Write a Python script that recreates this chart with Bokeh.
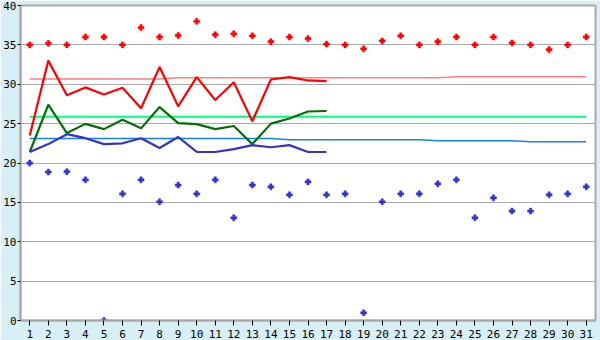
from bokeh.plotting import figure
from bokeh.models import Range1d, FixedTicker
from bokeh.embed import file_html
from bokeh.resources import INLINE

days = list(range(1, 32))
days_part = list(range(1, 18))

max_pts = [35.0, 35.2, 35.0, 36.0, 36.0, 35.0, 37.2, 36.0, 36.2, 38.0,
           36.3, 36.4, 36.15, 35.4, 36.0, 35.8, 35.1, 35.0, 34.5, 35.5,
           36.15, 35.0, 35.4, 36.0, 35.0, 36.0, 35.25, 35.0, 34.4, 35.0, 36.0]
min_pts = [20.0, 18.85, 18.9, 17.86, 0.0, 16.08, 17.86, 15.07, 17.2, 16.08,
           17.86, 13.04, 17.2, 16.97, 15.96, 17.6, 15.96, 16.08, 0.97, 15.07,
           16.08, 16.08, 17.35, 17.86, 13.04, 15.58, 13.9, 13.9, 15.96, 16.08, 16.97]

max_line = [23.5, 33.0, 28.6, 29.6, 28.7, 29.55, 26.96, 32.2, 27.2, 30.9,
            28.0, 30.26, 25.3, 30.6, 30.9, 30.48, 30.4]
mean_line = [21.4, 27.4, 23.8, 24.97, 24.3, 25.5, 24.4, 27.1, 25.06, 24.93,
             24.3, 24.7, 22.4, 25.0, 25.65, 26.54, 26.6]
min_line = [21.4, 22.4, 23.66, 23.15, 22.4, 22.5, 23.15, 21.9, 23.3, 21.4,
            21.4, 21.76, 22.27, 22.0, 22.27, 21.4, 21.4]

norm_max = [30.68] * 8 + [30.81] * 15 + [30.94] * 8
norm_mean = [25.87] * 31
norm_min = [23.11] * 14 + [22.95] * 8 + [22.81] * 5 + [22.69] * 4

x_ticks = days
y_ticks = [0, 5, 10, 15, 20, 25, 30, 35, 40]

BG = "#D9EFF6"
GRID = "#AAAAAA"
FONT = "DejaVu Sans Mono"

p = figure(width=600, height=340, output_backend="svg", toolbar_location=None,
           x_range=Range1d(0.5, 31.5), y_range=Range1d(0, 40),
           min_border_left=20, min_border_right=5, min_border_top=5, min_border_bottom=20)
p.background_fill_color = "white"
p.border_fill_color = BG
p.outline_line_color = GRID
p.outline_line_width = 2

p.xgrid.grid_line_color = None
p.ygrid.grid_line_color = GRID
p.ygrid.grid_line_width = 1
p.ygrid.ticker = FixedTicker(ticks=y_ticks)

p.xaxis.ticker = FixedTicker(ticks=x_ticks)
p.yaxis.ticker = FixedTicker(ticks=y_ticks)
for ax in (p.xaxis, p.yaxis):
    ax.axis_line_color = GRID
    ax.axis_line_width = 2
    ax.major_tick_line_color = "black"
    ax.major_tick_in = 0
    ax.minor_tick_line_color = None
    ax.major_label_text_font = FONT
    ax.major_label_text_font_size = "11px"
    ax.major_label_text_color = "black"
p.xaxis.major_tick_out = 5
p.xaxis.major_label_standoff = 4
p.yaxis.major_tick_out = 3
p.yaxis.major_label_standoff = 1

# normal lines
p.line(days, norm_max, line_color="#FF8080", line_width=1.5)
p.line(days, norm_mean, line_color="#00FF80", line_width=2)
p.line(days, norm_min, line_color="#1580F0", line_width=1.5)

# daily lines
p.line(days_part, max_line, line_color="#FF0000", line_width=2.2)
p.line(days_part, mean_line, line_color="#007000", line_width=2.2)
p.line(days_part, min_line, line_color="#3333CC", line_width=2.2)

# extremes
p.scatter(days, max_pts, marker="plus", size=6, fill_color="#FF0000", line_color="#FF0000", line_width=0.5)
p.scatter(days, min_pts, marker="plus", size=6, fill_color="#3333CC", line_color="#3333CC", line_width=0.5)

open("out.html", "w").write(file_html(p, INLINE))
